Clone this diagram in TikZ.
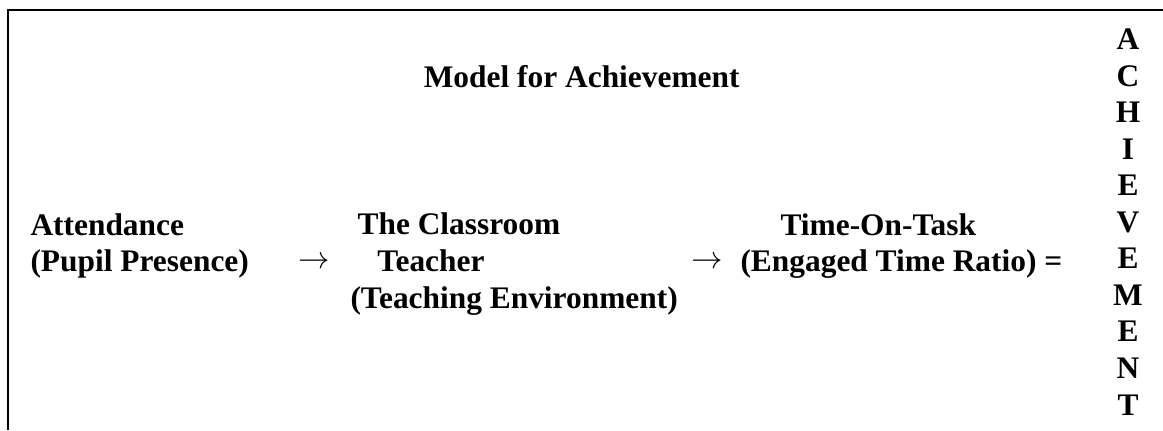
\documentclass[tikz,border=0pt]{standalone}
\usepackage{fontspec}
\setmainfont{Liberation Serif}
\newcommand{\modelfont}{\fontsize{12}{13.95}\selectfont}
\tikzstyle{heading} = [anchor=base, inner sep=0pt, font=\modelfont\bfseries]
\tikzstyle{factor} = [anchor=base west, align=left, inner sep=0pt, font=\modelfont\bfseries]
\tikzstyle{arrowsym} = [anchor=base west, inner sep=0pt, font=\modelfont]
\tikzstyle{result} = [anchor=base, align=center, inner sep=0pt, font=\modelfont\bfseries]
\tikzstyle{frame} = [line width=0.75pt]

\begin{document}
\begin{tikzpicture}[x=0.3821pt, y=-0.3821pt]
\useasboundingbox (0,0) rectangle (1163,430);
\draw[frame] (8.3,430) -- (8.3,10) -- (1163,10);

% base anchor = baseline of the last line
\node[heading] (title) at (581.7,87) {Model for Achievement};
\node[factor] (att) at (30,271.5) {Attendance\\(Pupil Presence)};
\node[arrowsym] (ar1) at (298,268) {$\rightarrow$};
\node[factor] (tea) at (350,308) {\hspace*{2.7pt}The Classroom\\\hspace*{10.3pt}Teacher\\(Teaching Environment)};
\node[arrowsym] (ar2) at (691,268) {$\rightarrow$};
\node[factor] (tot) at (740,271.5) {\hspace*{15.3pt}Time-On-Task\\(Engaged Time Ratio) =};
\node[result] (ach) at (1128,415) {A\\C\\H\\I\\E\\V\\E\\M\\E\\N\\T};

\end{tikzpicture}
\end{document}
